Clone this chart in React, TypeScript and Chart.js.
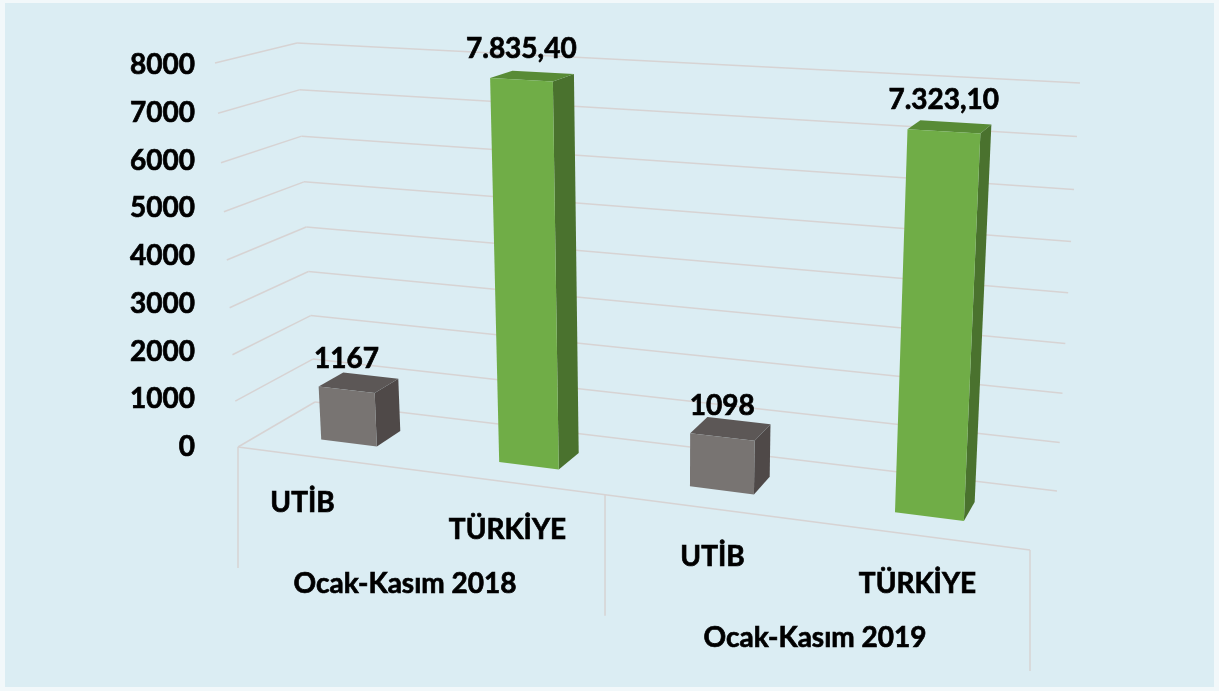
import React, { useEffect, useRef } from 'react';
import { Chart, registerables } from 'chart.js';

Chart.register(...registerables);

// ---------------- data ----------------
const categories = ['UTİB', 'TÜRKİYE', 'UTİB', 'TÜRKİYE'];
const groups = ['Ocak-Kasım 2018', 'Ocak-Kasım 2019'];
const values = [1167, 7835.4, 1098, 7323.1];
const valueLabels = ['1167', '7.835,40', '1098', '7.323,10'];
const yMin = 0;
const yMax = 8000;
const yStep = 1000;

// ---------------- styles ----------------
const FONT = 'Lato, "Open Sans", "DejaVu Sans", sans-serif';
const frontColors = ['#787472', '#70AD47', '#787472', '#70AD47'];
const topColors = ['#5C5756', '#588B36', '#5C5756', '#588B36'];
const sideColors = ['#4F4948', '#4A722E', '#4F4948', '#4A722E'];
const GRID = '#D7D3D3';
const TEXT_STROKE = 0.7;

// perspective view: front plane and back wall quads (bottom-left, bottom-right, top-right, top-left)
const FRONT_QUAD: number[][] = [[238, 447], [1030, 550], [1053, 108], [215, 63]];
const BACK_QUAD: number[][] = [[315, 402], [1057, 491], [1080, 83], [297, 43]];
const BAR_FRONT_DEPTH = 0.33;
const BAR_BACK_DEPTH = 0.66;
const SEPARATOR_LEN = 121;

function quadMap(q: number[][]) {
  const [x0, y0] = q[0];
  const [x1, y1] = q[1];
  const [x2, y2] = q[2];
  const [x3, y3] = q[3];
  const dx1 = x1 - x2, dx2 = x3 - x2, dx3 = x0 - x1 + x2 - x3;
  const dy1 = y1 - y2, dy2 = y3 - y2, dy3 = y0 - y1 + y2 - y3;
  const den = dx1 * dy2 - dx2 * dy1;
  const g = (dx3 * dy2 - dx2 * dy3) / den;
  const h = (dx1 * dy3 - dx3 * dy1) / den;
  const a = x1 - x0 + g * x1, b = x3 - x0 + h * x3, c = x0;
  const d = y1 - y0 + g * y1, e = y3 - y0 + h * y3, f = y0;
  return (u: number, v: number) => {
    const w = g * u + h * v + 1;
    return [(a * u + b * v + c) / w, (d * u + e * v + f) / w];
  };
}

const frontMap = quadMap(FRONT_QUAD);
const backMap = quadMap(BACK_QUAD);
const project = (u: number, v: number, depth: number) => {
  const f = frontMap(u, v);
  const b = backMap(u, v);
  return [f[0] + (b[0] - f[0]) * depth, f[1] + (b[1] - f[1]) * depth];
};

const perspectivePlugin = {
  id: 'perspective3d',
  afterLayout(chart: any) {
    // let both category rows share the whole band under the plot
    const x = chart.scales.x;
    const x2 = chart.scales.x2;
    const top = x.top;
    const bottom = x2.bottom;
    x.bottom = bottom;
    x.height = bottom - top;
    x2.top = top;
    x2.height = bottom - top;
  },
  beforeDatasetsDraw(chart: any) {
    const { ctx, chartArea: ca, scales } = chart;
    const yScale = scales.y;
    const x2 = scales.x2;
    const toU = (px: number) => (px - ca.left) / (ca.right - ca.left);
    const toV = (py: number) => (ca.bottom - py) / (ca.bottom - ca.top);
    const line = (p: number[], q: number[]) => {
      ctx.beginPath();
      ctx.moveTo(p[0], p[1]);
      ctx.lineTo(q[0], q[1]);
      ctx.stroke();
    };
    const poly = (pts: number[][], color: string) => {
      ctx.beginPath();
      ctx.moveTo(pts[0][0], pts[0][1]);
      for (let i = 1; i < pts.length; i++) ctx.lineTo(pts[i][0], pts[i][1]);
      ctx.closePath();
      ctx.fillStyle = color;
      ctx.fill();
    };

    ctx.save();
    // walls and floor grid
    ctx.strokeStyle = GRID;
    ctx.lineWidth = 1.5;
    yScale.ticks.forEach((t: any) => {
      const vn = toV(yScale.getPixelForValue(t.value));
      line(project(0, vn, 0), project(0, vn, 1));
      line(project(0, vn, 1), project(1, vn, 1));
    });
    line(project(0, 0, 0), project(1, 0, 0));
    [x2.left, (x2.left + x2.right) / 2, x2.right].forEach((px: number) => {
      const p = project(toU(px), 0, 0);
      line(p, [p[0], p[1] + SEPARATOR_LEN]);
    });

    // 3D bars
    const meta = chart.getDatasetMeta(0);
    meta.data.forEach((bar: any, i: number) => {
      const { x, y, base, width } = bar.getProps(['x', 'y', 'base', 'width'], true);
      const u0 = toU(x - width / 2);
      const u1 = toU(x + width / 2);
      const v0 = toV(base);
      const v1 = toV(y);
      const dF = BAR_FRONT_DEPTH;
      const dB = BAR_BACK_DEPTH;
      poly([project(u1, v0, dF), project(u1, v0, dB), project(u1, v1, dB), project(u1, v1, dF)], sideColors[i]);
      poly([project(u0, v1, dF), project(u1, v1, dF), project(u1, v1, dB), project(u0, v1, dB)], topColors[i]);
      poly([project(u0, v0, dF), project(u1, v0, dF), project(u1, v1, dF), project(u0, v1, dF)], frontColors[i]);

      const top = project((u0 + u1) / 2, v1, dF);
      ctx.fillStyle = '#000000';
      ctx.strokeStyle = '#000000';
      ctx.lineWidth = TEXT_STROKE;
      ctx.font = `bold 28px ${FONT}`;
      ctx.textAlign = 'center';
      ctx.textBaseline = 'alphabetic';
      ctx.fillText(valueLabels[i], top[0], top[1] - 22);
      ctx.strokeText(valueLabels[i], top[0], top[1] - 22);
    });
    ctx.restore();
    return false;
  },
};

export default function App() {
  const canvasRef = useRef<HTMLCanvasElement | null>(null);

  useEffect(() => {
    if (!canvasRef.current) return;
    const chart = new Chart(canvasRef.current, {
      type: 'bar',
      data: {
        labels: categories,
        datasets: [
          {
            label: 'İhracat',
            data: values,
            backgroundColor: frontColors,
            borderWidth: 0,
            barPercentage: 0.32,
            categoryPercentage: 1,
          },
        ],
      },
      options: {
        responsive: false,
        animation: false,
        devicePixelRatio: 1,
        events: [],
        layout: { padding: { top: 65, right: 199, left: 0, bottom: 0 } },
        plugins: {
          legend: { display: false },
          tooltip: { enabled: false },
          title: { display: false },
        },
        scales: {
          y: {
            min: yMin,
            max: yMax,
            grid: { display: false, drawTicks: false },
            border: { display: false },
            ticks: {
              stepSize: yStep,
              padding: 5,
              color: '#000000',
              textStrokeColor: '#000000',
              textStrokeWidth: TEXT_STROKE,
              font: { family: FONT, size: 28, weight: 'bold' },
              callback: (v: any) => String(v),
            },
            afterFit: (s: any) => {
              s.width = 200;
            },
          },
          x: {
            type: 'category',
            position: 'bottom',
            weight: 0,
            grid: { display: false, drawTicks: false },
            border: { display: false },
            ticks: {
              autoSkip: false,
              maxRotation: 0,
              minRotation: 0,
              padding: 43,
              color: '#000000',
              textStrokeColor: '#000000',
              textStrokeWidth: TEXT_STROKE,
              font: { family: FONT, size: 28, weight: 'bold', lineHeight: 0.954 },
              callback: (_v: any, idx: number) => [...Array(idx).fill(''), categories[idx]],
            },
            afterFit: (s: any) => {
              s.height = 100;
            },
          },
          x2: {
            type: 'category',
            position: 'bottom',
            weight: 1,
            labels: groups,
            offset: true,
            grid: { display: false, drawTicks: false },
            border: { display: false },
            ticks: {
              autoSkip: false,
              maxRotation: 0,
              minRotation: 0,
              padding: 110,
              color: '#000000',
              textStrokeColor: '#000000',
              textStrokeWidth: TEXT_STROKE,
              font: { family: FONT, size: 28, weight: 'bold', lineHeight: 1.93 },
              callback: (_v: any, idx: number) => [...Array(idx).fill(''), groups[idx]],
            },
            afterFit: (s: any) => {
              s.height = 144;
            },
          },
        },
      } as any,
      plugins: [perspectivePlugin],
    });
    return () => chart.destroy();
  }, []);

  return (
    <div
      style={{
        position: 'absolute',
        left: 0,
        top: 0,
        width: 1219,
        height: 691,
        background: '#F2F8FA',
        overflow: 'hidden',
      }}
    >
      <div
        style={{
          position: 'absolute',
          left: 5,
          top: 3,
          width: 1209,
          height: 684,
          background: '#DBEDF3',
        }}
      />
      <canvas
        ref={canvasRef}
        width={1219}
        height={691}
        style={{ position: 'absolute', left: 0, top: 0 }}
      />
    </div>
  );
}
